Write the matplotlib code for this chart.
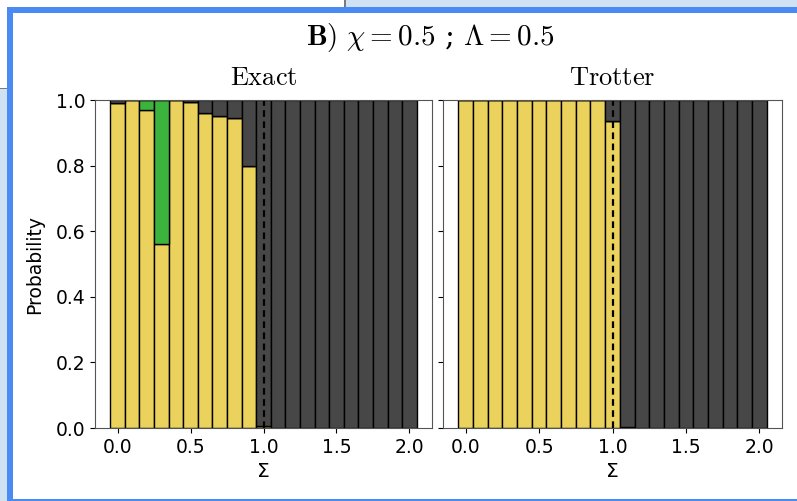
import numpy as np
import matplotlib
matplotlib.use("Agg")
import matplotlib.pyplot as plt
from matplotlib.patches import Rectangle

plt.rcParams["mathtext.fontset"] = "cm"

# Σ bins 0.0 .. 2.0
sigma = np.round(np.arange(0, 2.01, 0.1), 2)

# Exact: stacked probabilities (yellow / green / dark)
exact_yellow = [0.99, 1.0, 0.97, 0.56, 1.0, 0.995, 0.96, 0.95, 0.945, 0.80,
                0.005, 0, 0, 0, 0, 0, 0, 0, 0, 0, 0]
exact_green = [0, 0, 0.03, 0.44, 0, 0, 0, 0, 0, 0,
               0, 0, 0, 0, 0, 0, 0, 0, 0, 0, 0]

# Trotter
trotter_yellow = [1.0, 1.0, 1.0, 1.0, 1.0, 1.0, 1.0, 1.0, 1.0, 1.0,
                  0.935, 0.004, 0, 0, 0, 0, 0, 0, 0, 0, 0]
trotter_green = [0] * 21

titles = ["Exact", "Trotter"]
yticks = [0.0, 0.2, 0.4, 0.6, 0.8, 1.0]
xticks = [0.0, 0.5, 1.0, 1.5, 2.0]

YELLOW = "#ebd25c"
GREEN = "#3cb33c"
DARK = "#474747"

W, H = 797, 501
fig = plt.figure(figsize=(W / 100, H / 100), dpi=100)


def px(x0, y0, w, h):
    # pixel box (top-left origin) -> figure fraction
    return [x0 / W, 1 - (y0 + h) / H, w / W, h / H]


# screenshot frame around the figure
def rect(x0, y0, w, h, color):
    b = px(x0, y0, w, h)
    fig.add_artist(Rectangle((b[0], b[1]), b[2], b[3], transform=fig.transFigure,
                             facecolor=color, edgecolor="none", zorder=0))


rect(0, 88, 7, 413, "#cfe2f3")
rect(345, 0, 452, 7, "#cfe2f3")
rect(344, 0, 1.5, 7, "#7a7a7a")
rect(0, 87.5, 7, 1.2, "#7a7a7a")
rect(7, 7, 6, 494, "#4a8af4")
rect(7, 7, 790, 6, "#4a8af4")
rect(7, 498.5, 790, 2.5, "#4a8af4")

ax1 = fig.add_axes(px(95, 100, 337, 328))
ax2 = fig.add_axes(px(443, 100, 339, 328), sharey=ax1)

for ax, yel, grn, title in [(ax1, exact_yellow, exact_green, titles[0]),
                            (ax2, trotter_yellow, trotter_green, titles[1])]:
    yel = np.array(yel)
    grn = np.array(grn)
    dark = 1 - yel - grn
    ax.bar(sigma, yel, width=0.1, color=YELLOW, edgecolor="black", linewidth=1)
    ax.bar(sigma, grn, width=0.1, bottom=yel, color=GREEN, edgecolor="black", linewidth=1)
    ax.bar(sigma, dark, width=0.1, bottom=yel + grn, color=DARK, edgecolor="black", linewidth=1)
    ax.axvline(1.0, color="black", linestyle="--", linewidth=1.6, dashes=(3, 2))
    ax.set_title(r"$\mathrm{%s}$" % title, fontsize=19, pad=11)
    ax.set_xticks(xticks)
    ax.set_xlabel("Σ", fontsize=14.5, labelpad=4)
    ax.tick_params(labelsize=13.5)
    for s in ax.spines.values():
        s.set_color("#555555")

ax1.set_ylim(0, 1.0)
ax1.set_yticks(yticks)
ax1.set_ylabel("Probability", fontsize=13.5, labelpad=8)
plt.setp(ax2.get_yticklabels(), visible=False)

fig.text(430 / W, 1 - 38 / H, r"$\mathbf{B)}\ \chi = 0.5$ ; $\Lambda = 0.5$",
         ha="center", va="center", fontsize=21, family="serif")

fig.savefig("out.png", dpi=100)
